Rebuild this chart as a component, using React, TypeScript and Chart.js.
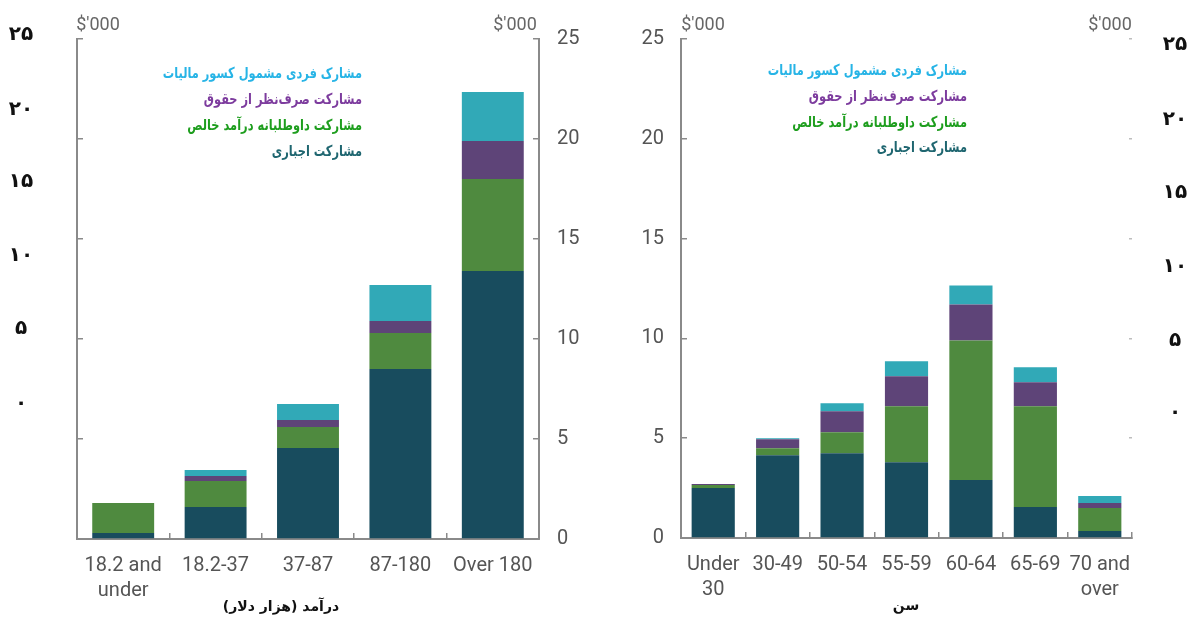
import React, { useEffect, useRef } from 'react';
import { Chart, registerables } from 'chart.js';
Chart.register(...registerables);

// ---------- DATA ----------
const incomeCategories: (string | string[])[] = [['18.2 and', 'under'], '18.2-37', '37-87', '87-180', 'Over 180'];
const incomeCompulsory = [0.3, 1.6, 4.55, 8.5, 13.4];
const incomeVoluntary = [1.5, 1.3, 1.05, 1.8, 4.6];
const incomeSalary = [0.0, 0.25, 0.35, 0.6, 1.9];
const incomePersonal = [0.0, 0.3, 0.8, 1.8, 2.45];

const ageCategories: (string | string[])[] = [['Under', '30'], '30-49', '50-54', '55-59', '60-64', '65-69', ['70 and', 'over']];
const ageCompulsory = [2.5, 4.15, 4.25, 3.8, 2.9, 1.55, 0.35];
const ageVoluntary = [0.15, 0.35, 1.05, 2.8, 7.0, 5.05, 1.15];
const ageSalary = [0.05, 0.45, 1.05, 1.5, 1.8, 1.2, 0.25];
const agePersonal = [0.0, 0.05, 0.4, 0.75, 0.95, 0.75, 0.35];

const seriesNames = [
  'مشارکت اجباری',
  'مشارکت داوطلبانه درآمد خالص',
  'مشارکت صرف‌نظر از حقوق',
  'مشارک فردی مشمول کسور مالیات',
];
const legendOrder = [3, 2, 1, 0];
const persianTicks = ['۲۵', '۲۰', '۱۵', '۱۰', '۵', '۰'];
const unitLabel = "$'000";
const incomeTitle = 'درآمد (هزار دلار)';
const ageTitle = 'سن';

// ---------- STYLE ----------
const barColors = ['#184c5e', '#4f8a3f', '#5e4478', '#31a9b7'];
const legendColors = ['#1f6670', '#1e9e1e', '#7d3c9e', '#27b4e6'];
const axisColor = '#8a8a8a';
const tickFont = { family: 'Roboto, "Liberation Sans", sans-serif', size: 20 as number, lineHeight: 1.25 };
const tickColor = '#555';

function makeDatasets(series: number[][]) {
  return series.map((d, i) => ({
    label: seriesNames[i],
    data: d,
    backgroundColor: barColors[i],
    borderWidth: 0,
    categoryPercentage: 1,
    barPercentage: 0.67,
    yAxisID: 'y',
  }));
}

function xScale(height: number) {
  return {
    type: 'category',
    stacked: true,
    position: 'bottom',
    grid: { display: true, drawOnChartArea: false, drawTicks: true, tickLength: -6, color: axisColor, lineWidth: 1.5, offset: true },
    border: { display: true, color: axisColor, width: 2 },
    ticks: { font: tickFont, color: tickColor, padding: 20, maxRotation: 0, minRotation: 0, autoSkip: false },
    afterFit: (s: any) => { s.height = height; },
  };
}

function yScale(position: 'left' | 'right', width: number, labels: boolean, border: boolean, tickLen: number, color: string, padding: number) {
  return {
    type: 'linear',
    position,
    stacked: true,
    min: 0,
    max: 25,
    grid: { display: true, drawOnChartArea: false, drawTicks: true, tickLength: tickLen, color, lineWidth: 1.5 },
    border: { display: border, color: axisColor, width: 2 },
    ticks: { display: labels, stepSize: 5, font: tickFont, color: tickColor, padding },
    afterFit: (s: any) => { s.width = width; },
  };
}

function BarPanel(props: { left: number; width: number; cats: (string | string[])[]; series: number[][]; kind: 'income' | 'age' }) {
  const ref = useRef<HTMLCanvasElement | null>(null);
  useEffect(() => {
    if (!ref.current) return;
    const isIncome = props.kind === 'income';
    const scales: any = isIncome
      ? {
          x: xScale(83),
          y: yScale('right', 61, true, true, -6, axisColor, 24),
          y2: yScale('left', 77, false, true, -6, axisColor, 0),
        }
      : {
          x: xScale(84),
          y: yScale('left', 81, true, true, -6, axisColor, 23),
          y2: yScale('right', 64, false, false, -3, '#bdbdbd', 0),
        };
    const chart = new Chart(ref.current, {
      type: 'bar',
      data: { labels: props.cats as any, datasets: makeDatasets(props.series) as any },
      options: {
        responsive: false,
        animation: false,
        devicePixelRatio: 1,
        layout: { padding: { top: 39, left: 0, right: 0, bottom: 0 }, autoPadding: false },
        plugins: { legend: { display: false }, tooltip: { enabled: false }, title: { display: false } },
        scales,
      } as any,
    });
    return () => chart.destroy();
  }, []);
  return (
    <canvas
      ref={ref}
      width={props.width}
      height={622}
      style={{ position: 'absolute', left: props.left, top: 0, width: props.width, height: 622 }}
    />
  );
}

function Txt(p: { x: number; y: number; text: string; style?: React.CSSProperties }) {
  return (
    <div
      style={{
        position: 'absolute',
        left: p.x,
        top: p.y,
        transform: 'translate(-50%, -50%)',
        whiteSpace: 'nowrap',
        ...p.style,
      }}
    >
      {p.text}
    </div>
  );
}

function Legend(p: { right: number; ys: number[] }) {
  return (
    <>
      {legendOrder.map((si, i) => (
        <div
          key={si}
          style={{
            position: 'absolute',
            left: p.right - 400,
            width: 400,
            top: p.ys[i],
            transform: 'translateY(-50%) scaleX(0.76)',
            transformOrigin: 'right center',
            textAlign: 'right',
            direction: 'rtl',
            whiteSpace: 'nowrap',
            fontFamily: '"DejaVu Sans", sans-serif',
            fontWeight: 'bold',
            fontSize: 15,
            color: legendColors[si],
          }}
        >
          {seriesNames[si]}
        </div>
      ))}
    </>
  );
}

const persianStyle: React.CSSProperties = { fontFamily: '"DejaVu Sans", sans-serif', fontWeight: 'bold', fontSize: 20, color: '#111' };
const unitStyle: React.CSSProperties = { fontFamily: 'Roboto, sans-serif', fontSize: 18, color: '#666' };
const titleStyle: React.CSSProperties = { fontFamily: '"DejaVu Sans", sans-serif', fontWeight: 'bold', fontSize: 14, color: '#111', direction: 'rtl' };

const leftPersianY = [33, 108, 180, 254, 327, 402];
const rightPersianY = [43, 118, 191, 265, 339, 411];

export default function App() {
  return (
    <div style={{ position: 'absolute', left: 0, top: 0, width: 1196, height: 622, background: '#fff', overflow: 'hidden' }}>
      <BarPanel left={0} width={600} cats={incomeCategories} series={[incomeCompulsory, incomeVoluntary, incomeSalary, incomePersonal]} kind="income" />
      <BarPanel left={600} width={596} cats={ageCategories} series={[ageCompulsory, ageVoluntary, ageSalary, agePersonal]} kind="age" />
      <Txt x={98} y={23} text={unitLabel} style={unitStyle} />
      <Txt x={515} y={23} text={unitLabel} style={unitStyle} />
      <Txt x={703} y={23} text={unitLabel} style={unitStyle} />
      <Txt x={1110} y={23} text={unitLabel} style={unitStyle} />
      <Legend right={362} ys={[72.7, 98.7, 125.3, 150.7]} />
      <Legend right={967} ys={[70, 96, 122, 147]} />
      {persianTicks.map((t, i) => (
        <Txt key={'l' + i} x={21} y={leftPersianY[i]} text={t} style={persianStyle} />
      ))}
      {persianTicks.map((t, i) => (
        <Txt key={'r' + i} x={1175} y={rightPersianY[i]} text={t} style={persianStyle} />
      ))}
      <Txt x={281} y={606} text={incomeTitle} style={titleStyle} />
      <Txt x={906} y={605} text={ageTitle} style={titleStyle} />
    </div>
  );
}
